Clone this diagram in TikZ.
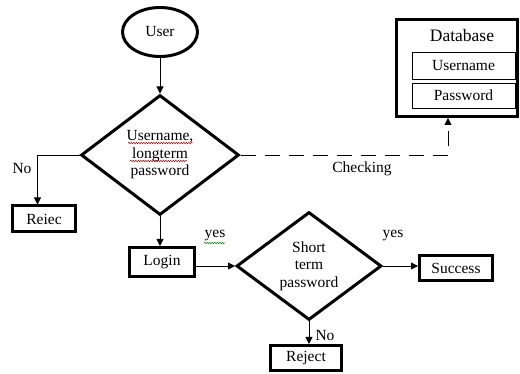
\documentclass[tikz,border=0pt]{standalone}
\usepackage{fontspec}
\setmainfont{Liberation Serif}
\usetikzlibrary{shapes.geometric,arrows.meta,decorations.pathmorphing}

\begin{document}
\begin{tikzpicture}[x=1pt,y=-1pt,
  every node/.style={font=\fontsize{15.5}{17.5}\selectfont},
  thickbox/.style={draw,line width=3pt,inner sep=0pt},
  thinbox/.style={draw,line width=0.8pt,inner sep=0pt},
  decision/.style={diamond,draw,line width=3pt,inner sep=0pt,align=center},
  link/.style={line width=0.9pt,-{Triangle[length=7pt,width=7pt]}},
  checkline/.style={line width=0.9pt,dash pattern=on 15pt off 9pt,-{Triangle[length=7pt,width=7pt]}},
  squiggle/.style={decorate,decoration={snake,amplitude=0.7pt,segment length=2.5pt},line width=0.5pt}
]
\useasboundingbox (0,0) rectangle (520,374);

% flow nodes
\node[ellipse,draw,line width=3pt,minimum width=75pt,minimum height=49pt] (user) at (160,32) {User};
\node[decision,minimum width=158pt,minimum height=120pt] (d1) at (160,155) {Username,\\longterm\\password};
\node[thickbox,minimum width=63pt,minimum height=26pt] (rej1) at (44,219) {Reiec};
\node[thickbox,minimum width=65pt,minimum height=29pt] (login) at (162,262) {Login};
\node[decision,minimum width=145pt,minimum height=108pt] (d2) at (309,266) {Short\\term\\password};
\node[thickbox,minimum width=73pt,minimum height=25pt] (succ) at (456,268) {Success};
\node[thickbox,minimum width=71pt,minimum height=25pt] (rej2) at (306,358) {Reject};

% database
\node[thickbox,minimum width=121pt,minimum height=97pt] (db) at (457,68) {};
\node[font=\fontsize{17.5}{20}\selectfont] (dbt) at (462,36) {Database};
\node[thinbox,minimum width=103pt,minimum height=27pt] (un) at (463.5,65.5) {Username};
\node[thinbox,minimum width=103pt,minimum height=25pt] (pw) at (463.5,95.5) {Password};

% connectors
\draw[link] (user) -- (d1);
\draw[link] (d1.west) -- ++(-42,0) coordinate (nc) -- (nc |- rej1.north);
\draw[link] (d1.south) -- (d1.south |- login.north);
\draw[link] (d2.west -| login.east) -- (d2.west);
\draw[link] (d2.east) -- (d2.east -| succ.west);
\draw[link] (d2.south) -- (d2.south |- rej2.north);
\coordinate (ck) at (448,0);
\draw[checkline] (d1.east) -| (ck |- db.south);

% labels
\node (no1) at (22,169) {No};
\node (yes1) at (215,236) {yes};
\node (chk) at (362,169) {Checking};
\node (yes2) at (393,236) {yes};
\node (no2) at (325,336) {No};

% spell-check marks
\draw[squiggle,red!70!black] (128,143) -- (193,143);
\draw[squiggle,red!70!black] (130,161) -- (187,161);
\draw[squiggle,green!50!black] (204,243) -- (225,243);
\end{tikzpicture}
\end{document}
